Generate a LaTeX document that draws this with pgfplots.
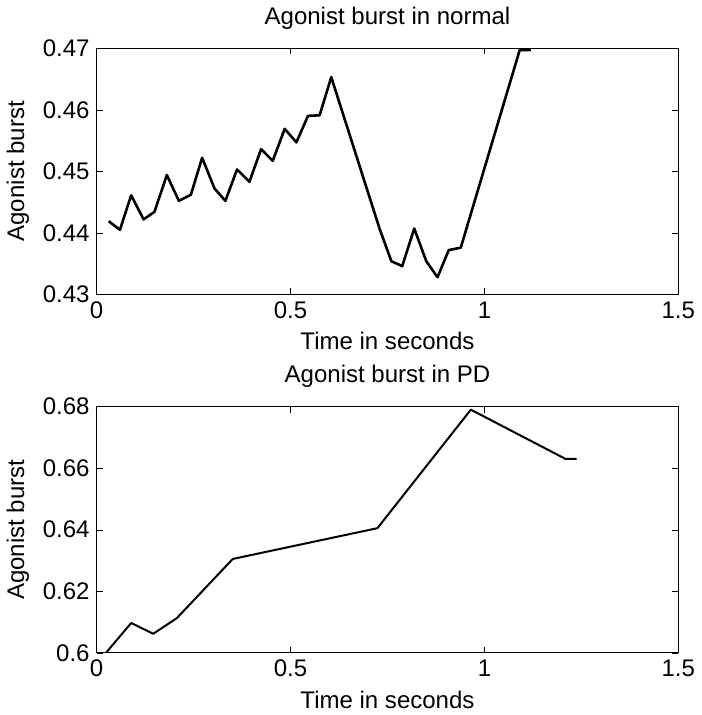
\documentclass[border=0pt]{standalone}
\usepackage{fontspec}
\setmainfont{Liberation Sans}
\usepackage{pgfplots}
\pgfplotsset{compat=1.18}

% normal condition
\pgfplotstableread{
t     v
0.031 0.4419
0.060 0.4405
0.089 0.4461
0.121 0.4422
0.149 0.4434
0.181 0.4494
0.212 0.4452
0.243 0.4462
0.272 0.4522
0.304 0.4472
0.332 0.4452
0.362 0.4503
0.394 0.4483
0.424 0.4536
0.454 0.4517
0.485 0.4569
0.515 0.4547
0.545 0.4590
0.575 0.4591
0.605 0.4653
0.730 0.4406
0.760 0.4354
0.788 0.4346
0.819 0.4407
0.850 0.4354
0.879 0.4328
0.908 0.4372
0.939 0.4376
1.091 0.4697
1.120 0.4697
}\normaldata

% PD condition
\pgfplotstableread{
t     v
0.024 0.6000
0.089 0.6097
0.146 0.6062
0.207 0.6113
0.351 0.6305
0.724 0.6405
0.965 0.6790
1.209 0.6630
1.238 0.6630
}\pddata

\pgfplotsset{
  burst/.style={
    scale only axis,
    width=290.5pt, height=123pt,
    xmin=0, xmax=1.5,
    xtick={0,0.5,1,1.5},
    tick pos=both,
    tick align=inside,
    major tick length=3pt,
    minor tick num=0,
    scaled ticks=false,
    font=\fontsize{12}{14}\selectfont,
    /pgf/number format/assume math mode=true,
    xlabel={Time in seconds},
    ylabel={Agonist burst},
    axis line style={black},
    tick style={black},
  },
}

\begin{document}
\begin{tikzpicture}
  \begin{axis}[burst,
      at={(0,0)},
      title={Agonist burst in normal},
      ymin=0.43, ymax=0.47,
      ytick={0.43,0.44,0.45,0.46,0.47},
      yticklabels={0.43,0.44,0.45,0.46,0.47},
    ]
    \addplot[black, line width=1.3pt, line join=round, no marks] table[x=t, y=v] {\normaldata};
  \end{axis}
  \begin{axis}[burst,
      at={(0,-179pt)},
      title={Agonist burst in PD},
      ymin=0.6, ymax=0.68,
      ytick={0.6,0.62,0.64,0.66,0.68},
      yticklabels={0.6,0.62,0.64,0.66,0.68},
    ]
    \addplot[black, line width=1pt, line join=round, no marks] table[x=t, y=v] {\pddata};
  \end{axis}
\end{tikzpicture}
\end{document}
